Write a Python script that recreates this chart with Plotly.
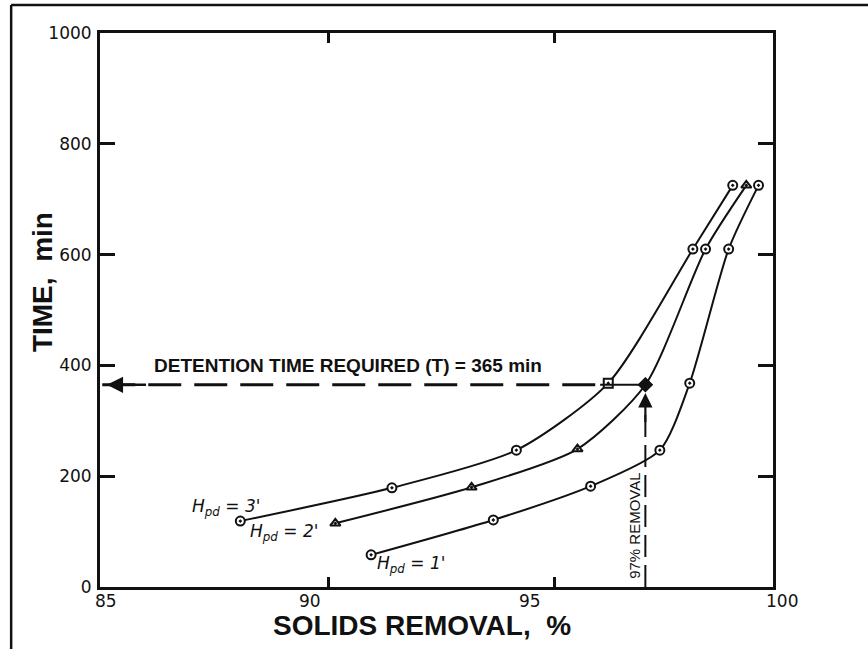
import plotly.graph_objects as go

# Settling-column results: solids removal (%) vs. detention time (min) for three depths
removal_3ft = [88.05, 91.4, 94.15, 96.18, 98.05, 98.93]
time_3ft = [119, 179, 247, 368, 610, 725]
removal_2ft = [90.15, 93.16, 95.5, 97.0, 98.33, 99.23]
time_2ft = [115, 180, 249, 365, 610, 725]
removal_1ft = [90.94, 93.64, 95.79, 97.32, 97.98, 98.84, 99.5]
time_1ft = [58, 121, 182, 247, 368, 610, 725]

x_ticks = [85, 90, 95, 100]
y_ticks = [0, 200, 400, 600, 800, 1000]

target_removal = 97
required_time = 365

X_MIN, X_MAX = 84.95, 99.82
BLACK = "#111111"
fig = go.Figure()

def curve(x, y, symbols, name):
    fig.add_trace(go.Scatter(
        x=x, y=y, mode="lines+markers", name=name,
        line=dict(color=BLACK, width=2, shape="spline", smoothing=0.7),
        marker=dict(symbol=symbols, size=9, color="white",
                    line=dict(color=BLACK, width=2)),
        showlegend=False,
    ))

curve(removal_3ft, time_3ft,
      ["circle-dot", "circle-dot", "circle-dot", "square-dot", "circle-dot", "circle-dot"], "3 ft")
curve(removal_2ft, time_2ft,
      ["triangle-up-dot", "triangle-up-dot", "triangle-up-dot", "diamond-dot", "circle-dot", "triangle-up-dot"], "2 ft")
curve(removal_1ft, time_1ft, ["circle-dot"] * len(removal_1ft), "1 ft")

# filled marker at the design point
fig.add_trace(go.Scatter(
    x=[target_removal], y=[required_time], mode="markers",
    marker=dict(symbol="diamond", size=12, color=BLACK), showlegend=False))

# dashed guide lines
fig.add_trace(go.Scatter(
    x=[85, 96.0], y=[required_time, required_time], mode="lines",
    line=dict(color=BLACK, width=3, dash="33px,13px"), showlegend=False))
fig.add_trace(go.Scatter(
    x=[96.0, target_removal], y=[required_time, required_time], mode="lines",
    line=dict(color=BLACK, width=2), showlegend=False))
fig.add_trace(go.Scatter(
    x=[target_removal, target_removal], y=[0, required_time - 30], mode="lines",
    line=dict(color=BLACK, width=2, dash="22px,8px"), showlegend=False))

annotations = []
# arrowheads
annotations.append(dict(x=85.1, y=required_time, ax=86.0, ay=required_time,
                        xref="x", yref="y", axref="x", ayref="y", text="",
                        showarrow=True, arrowhead=2, arrowsize=1.3, arrowwidth=2.5,
                        arrowcolor=BLACK))
annotations.append(dict(x=target_removal, y=required_time - 15, ax=target_removal,
                        ay=required_time - 70, xref="x", yref="y", axref="x", ayref="y",
                        text="", showarrow=True, arrowhead=2, arrowsize=1.3,
                        arrowwidth=2.2, arrowcolor=BLACK))

annotations.append(dict(x=86.1, y=required_time, xref="x", yref="y",
                        text="<b>DETENTION TIME REQUIRED (T) = 365 min</b>",
                        showarrow=False, xanchor="left", yanchor="bottom", yshift=7,
                        font=dict(family="Liberation Sans, Arial", size=19, color=BLACK)))
annotations.append(dict(x=target_removal, y=0, xref="x", yref="y",
                        text="97% REMOVAL", textangle=-90, showarrow=False,
                        xanchor="right", yanchor="bottom", xshift=-1, yshift=6,
                        font=dict(family="Liberation Sans Narrow, Liberation Sans, Arial",
                                  size=15, color=BLACK)))

# curve labels
for lx, ly, depth in [(87.74, 143, "3'"), (89.01, 99, "2'"), (91.82, 40, "1'")]:
    annotations.append(dict(x=lx, y=ly, xref="x", yref="y",
                            text=f"<i>H<sub>pd</sub> = {depth}</i>", showarrow=False,
                            font=dict(family="DejaVu Sans", size=17, color=BLACK)))

# x tick labels, placed on the paper so the last one can sit past the frame
x_shift = {85: 4, 90: -19, 95: -25, 100: 1}
for t in x_ticks:
    px = (t - X_MIN) / (X_MAX - X_MIN)
    annotations.append(dict(x=px, y=0, xref="paper", yref="paper", text=str(t),
                            showarrow=False, xanchor="center", yanchor="top",
                            yshift=-2, xshift=x_shift[t],
                            font=dict(family="DejaVu Sans", size=17, color=BLACK)))

# axis titles
annotations.append(dict(x=0.479, y=-0.07, xref="paper", yref="paper",
                        text="<b>SOLIDS REMOVAL,  %</b>", showarrow=False,
                        xanchor="center", yanchor="middle",
                        font=dict(family="Liberation Sans, Arial", size=28, color=BLACK)))
annotations.append(dict(x=-0.085, y=0.55, xref="paper", yref="paper",
                        text="<b>TIME,  min</b>", textangle=-90, showarrow=False,
                        xanchor="center", yanchor="middle",
                        font=dict(family="Liberation Sans, Arial", size=28, color=BLACK)))

fig.update_layout(
    width=868, height=649,
    margin=dict(l=100, r=95, t=33, b=62),
    paper_bgcolor="white", plot_bgcolor="white",
    annotations=annotations,
    xaxis=dict(range=[X_MIN, X_MAX], showgrid=False, zeroline=False,
               tickvals=[90, 95], showticklabels=False, ticks="inside",
               ticklen=10, tickwidth=2.5, tickcolor=BLACK,
               showline=True, linecolor=BLACK, linewidth=3, mirror="ticks"),
    yaxis=dict(range=[0, 1000], showgrid=False, zeroline=False,
               tickvals=y_ticks, ticks="inside", ticklen=15, tickwidth=2.5,
               tickcolor=BLACK, showline=True, linecolor=BLACK, linewidth=3,
               mirror="ticks", ticklabelstandoff=2,
               tickfont=dict(family="DejaVu Sans", size=17, color=BLACK)),
    shapes=[
        dict(type="line", xref="paper", yref="paper", x0=-0.132, x1=-0.132,
             y0=1.0505, y1=-0.2, line=dict(color=BLACK, width=2.5)),
        dict(type="line", xref="paper", yref="paper", x0=-0.132, x1=1.2,
             y0=1.0505, y1=1.0505, line=dict(color=BLACK, width=2.5)),
    ],
)

fig.write_html("out.html")
